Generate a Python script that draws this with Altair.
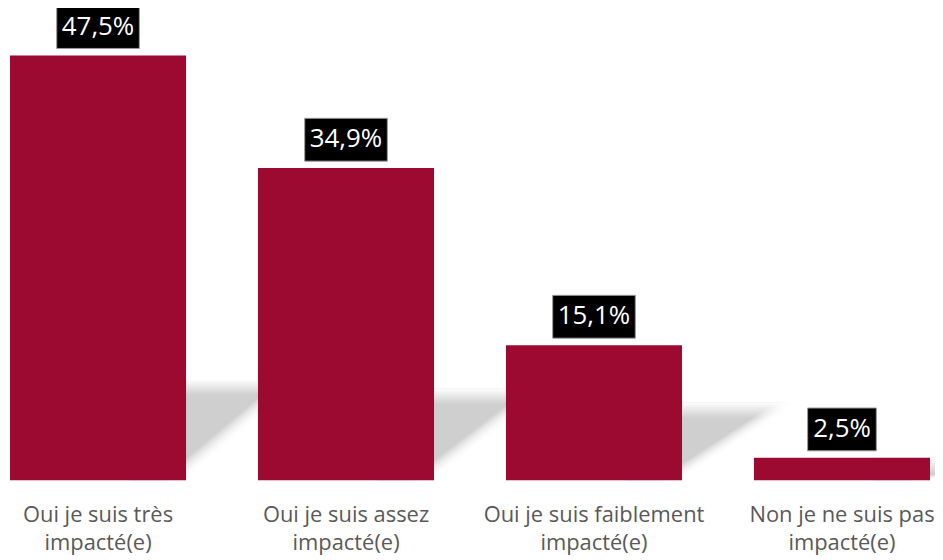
import altair as alt
import pandas as pd

categories = [
    "Oui je suis très\nimpacté(e)",
    "Oui je suis assez\nimpacté(e)",
    "Oui je suis faiblement\nimpacté(e)",
    "Non je ne suis pas\nimpacté(e)",
]
values = [47.5, 34.9, 15.1, 2.5]
labels = [f"{v:.1f}".replace(".", ",") + "%" for v in values]

df = pd.DataFrame({"cat": categories, "value": values, "label": labels})

BAR = "#9C0A31"
DX = 120
A = 0.32
S = 0.1

x_enc = alt.X(
    "cat:N",
    sort=None,
    scale=alt.Scale(paddingInner=0.29, paddingOuter=0, round=False),
    axis=alt.Axis(
        title=None, domain=False, ticks=False, grid=False,
        labelAngle=0, labelFont="Open Sans", labelFontSize=22,
        labelColor="#595959", labelPadding=25, labelLineHeight=28,
        labelLimit=0, labelOverlap=False,
        labelExpr="split(datum.value, '\\n')", labelBaseline="top",
    ),
)
y_scale = alt.Scale(domain=[0, 50])

base = alt.Chart(df).transform_calculate(
    sh="min(datum.value, 7.5 + 0.08 * datum.value)",
    boxw="length(datum.label) * 14 + 13",
)

shadow_grad = alt.LinearGradient(
    gradient="linear",
    stops=[
        alt.GradientStop(color="rgba(255,255,255,0)", offset=0),
        alt.GradientStop(color="#cfcfcf", offset=1),
    ],
    x1=A, y1=1, x2=A - S, y2=1 - 0.68 * S,
)
shadow = base.mark_bar(color=shadow_grad, xOffset=DX).encode(
    x=x_enc,
    y=alt.Y("sh:Q", scale=y_scale, axis=None),
)

fade_grad = alt.LinearGradient(
    gradient="linear",
    stops=[
        alt.GradientStop(color="#ffffff", offset=0),
        alt.GradientStop(color="rgba(255,255,255,0)", offset=1),
    ],
    x1=0, y1=0, x2=0, y2=1,
)
fade = base.mark_bar(color=fade_grad, xOffset=DX, y2Offset=16).encode(
    x=x_enc,
    y=alt.Y("sh:Q", scale=y_scale, axis=None),
    y2="sh:Q",
)

bars = base.mark_bar(color=BAR).encode(
    x=x_enc,
    y=alt.Y("value:Q", scale=y_scale, axis=None),
)

boxes = base.mark_bar(
    color="black", stroke="#9a9a9a", strokeWidth=1, yOffset=-7, y2Offset=-50
).encode(
    x=x_enc,
    y=alt.Y("value:Q", scale=y_scale, axis=None),
    y2="value:Q",
    size=alt.Size("boxw:Q", scale=None, legend=None),
)

text = base.mark_text(
    color="white", font="Open Sans", fontSize=26, baseline="middle", dy=-29
).encode(
    x=x_enc,
    y=alt.Y("value:Q", scale=y_scale, axis=None),
    text="label:N",
)

chart = alt.layer(shadow, fade, bars, boxes, text).properties(
    width=924,
    height=449,
    padding={"left": 2, "top": 24, "right": 5, "bottom": 78},
    autosize=alt.AutoSizeParams(type="none"),
).configure_view(stroke=None)

chart.save("out.html", embed_options={"renderer": "svg", "actions": False})
